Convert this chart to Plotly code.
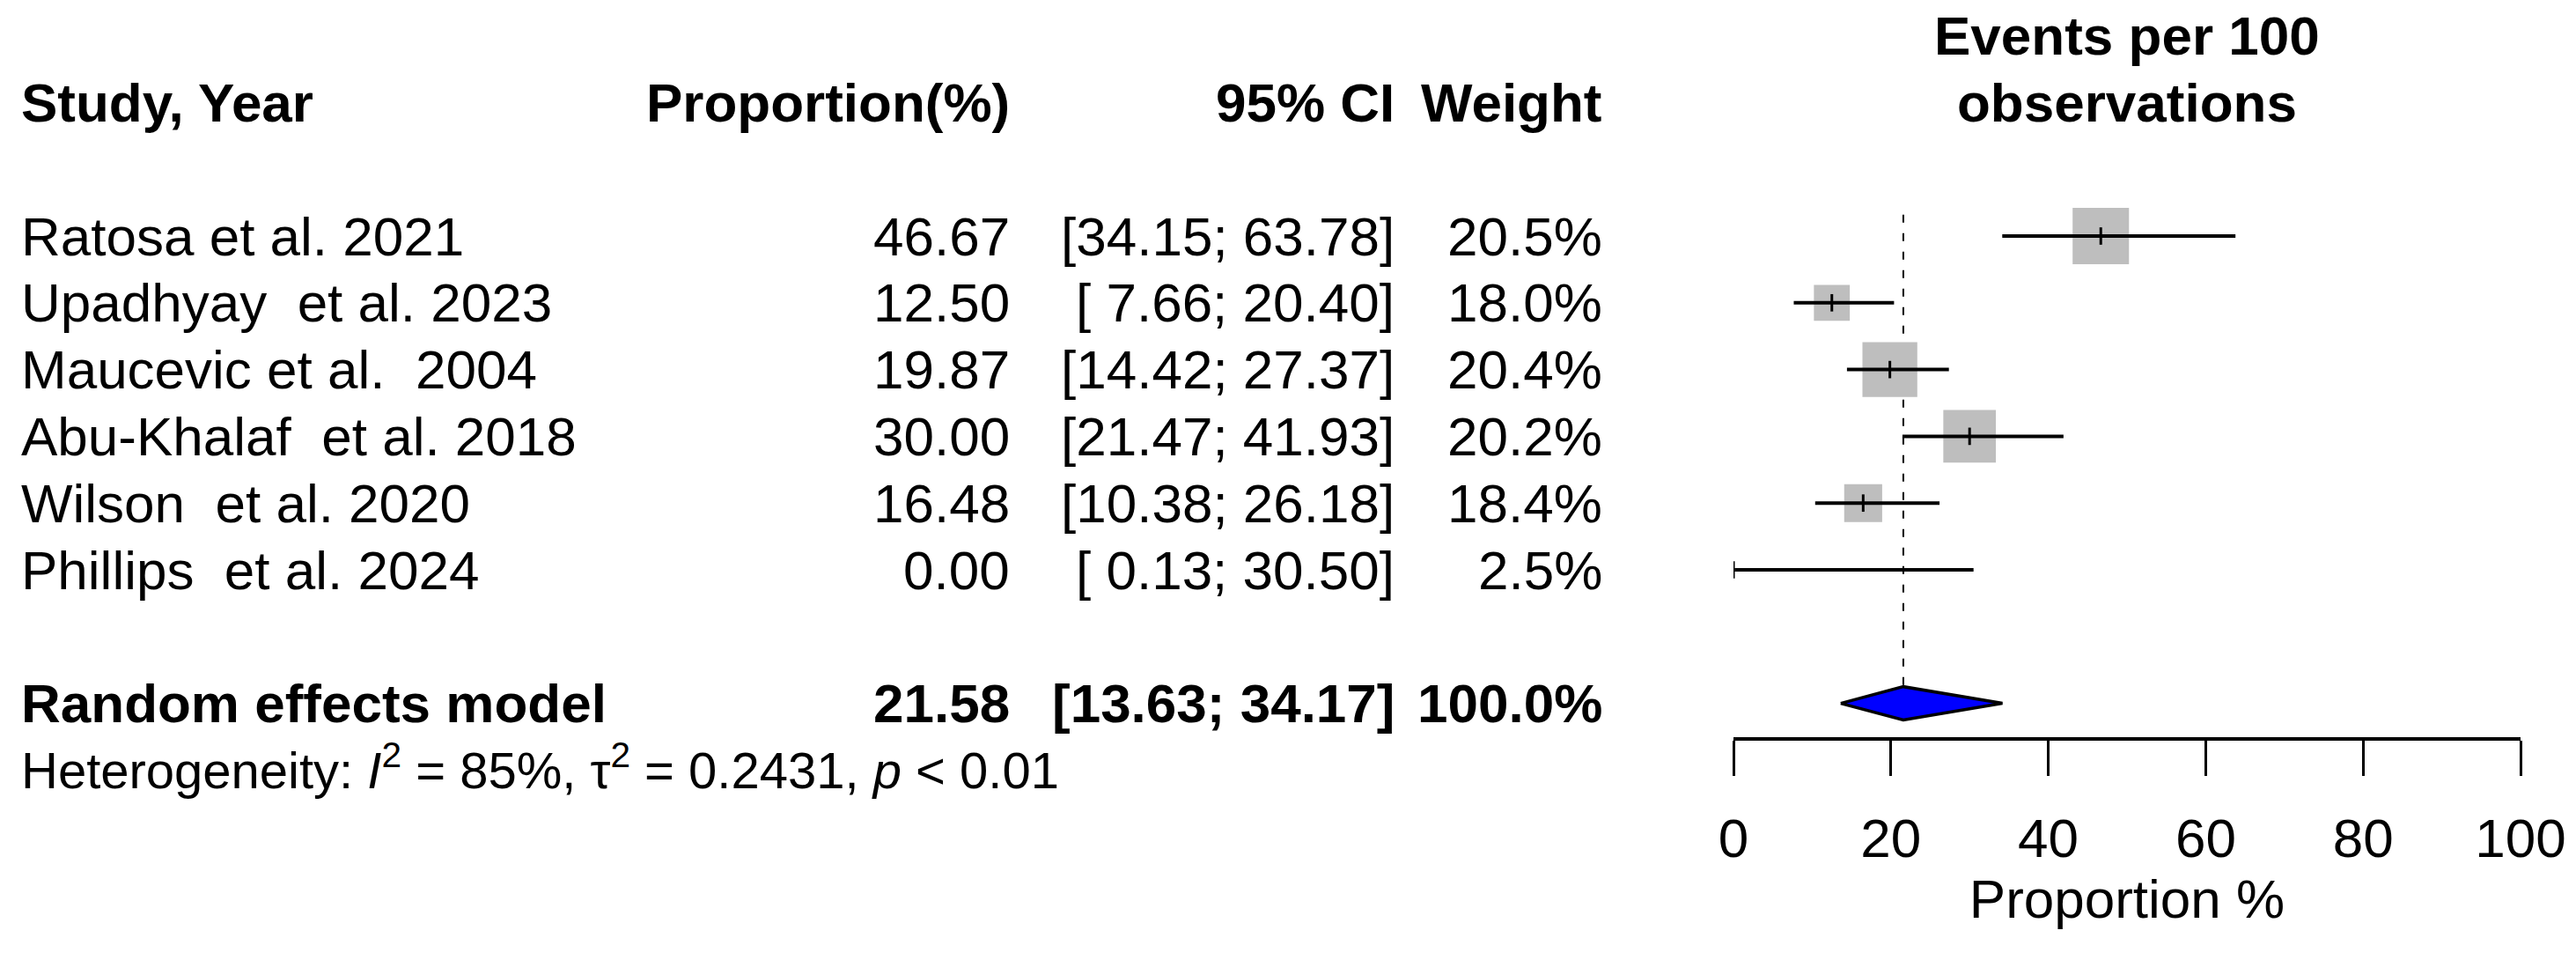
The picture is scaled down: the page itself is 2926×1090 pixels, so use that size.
import math
import plotly.graph_objects as go

# ---------------- data ----------------
studies = ["Ratosa et al. 2021", "Upadhyay  et al. 2023", "Maucevic et al.  2004",
           "Abu-Khalaf  et al. 2018", "Wilson  et al. 2020", "Phillips  et al. 2024"]
proportion = [46.67, 12.50, 19.87, 30.00, 16.48, 0.00]
ci_lower = [34.15, 7.66, 14.42, 21.47, 10.38, 0.13]
ci_upper = [63.78, 20.40, 27.37, 41.93, 26.18, 30.50]
weight_random = [20.5, 18.0, 20.4, 20.2, 18.4, 2.5]
# weights used for the box sizes (common-effect weights, %)
weight_box = [27.1, 11.0, 25.7, 23.6, 12.3, 0.0]

pooled_label = "Random effects model"
pooled_est = 21.58
pooled_lower = 13.63
pooled_upper = 34.17
pooled_weight = 100.0

het_text = "Heterogeneity: <i>I</i><sup>2</sup> = 85%, τ<sup>2</sup> = 0.2431, <i>p</i> &lt; 0.01"
axis_ticks = [0, 20, 40, 60, 80, 100]
axis_title = "Proportion %"
plot_title = ["Events per 100", "observations"]
headers = ["Study, Year", "Proportion(%)", "95% CI", "Weight"]

# ---------------- layout constants ----------------
W, H = 2926, 1090
FONT = "Liberation Sans, Arial, Helvetica, sans-serif"
FS = 62
X0_PX, X100_PX = 1969, 2863
ROW0_PX, ROW_STEP = 268, 75.8
AXIS_PX = 837
PX_PER_UNIT = (X100_PX - X0_PX) / 100.0
BOX_MAX_PX = 64

row_top = (0 - ROW0_PX) / ROW_STEP
row_bot = (AXIS_PX - ROW0_PX) / ROW_STEP
n = len(studies)
pooled_row = n + 1


def nb(s):
    # keep runs of spaces visible
    out = []
    prev_space = False
    for ch in s:
        if ch == " " and prev_space:
            out.append("\u00a0")
        else:
            out.append(ch)
        prev_space = ch in (" ", "\u00a0")
    return "".join(out)


fig = go.Figure()

# dashed line at pooled estimate
fig.add_shape(type="line", xref="x", yref="y", x0=pooled_est, x1=pooled_est,
              y0=-0.32, y1=pooled_row - 0.25,
              line=dict(color="black", width=2, dash="9px,12px"), layer="below")

# boxes
wmax = max(weight_box)
for i, (est, wb) in enumerate(zip(proportion, weight_box)):
    if wb <= 0:
        continue
    side = BOX_MAX_PX * math.sqrt(wb / wmax)
    hx = side / 2 / PX_PER_UNIT
    hy = side / 2 / ROW_STEP
    fig.add_shape(type="rect", xref="x", yref="y", x0=est - hx, x1=est + hx,
                  y0=i - hy, y1=i + hy, fillcolor="#bebebe",
                  line=dict(width=0), layer="below")

# CI lines
cx, cy = [], []
for i in range(n):
    cx += [ci_lower[i], ci_upper[i], None]
    cy += [i, i, None]
fig.add_trace(go.Scatter(x=cx, y=cy, mode="lines", line=dict(color="black", width=4),
                         hoverinfo="skip", showlegend=False))
# estimate ticks
tx, ty = [], []
for i in range(n):
    tx += [proportion[i], proportion[i], None]
    ty += [i - 0.13, i + 0.13, None]
fig.add_trace(go.Scatter(x=tx, y=ty, mode="lines", line=dict(color="black", width=3),
                         hoverinfo="skip", showlegend=False))
# diamond
fig.add_trace(go.Scatter(
    x=[pooled_lower, pooled_est, pooled_upper, pooled_est, pooled_lower],
    y=[pooled_row, pooled_row - 0.25, pooled_row, pooled_row + 0.25, pooled_row],
    mode="lines", fill="toself", fillcolor="#0000ff",
    line=dict(color="black", width=3.5), hoverinfo="skip", showlegend=False))


def ann(text, xpx, row, anchor, bold=False, size=FS):
    if bold:
        text = "<b>" + text + "</b>"
    fig.add_annotation(text=text, xref="paper", yref="y", x=xpx / W, y=row,
                       xanchor=anchor, yanchor="middle", showarrow=False,
                       font=dict(family=FONT, size=size, color="black"))


COL_NAME, COL_PROP, COL_CI, COL_W = 22, 1149, 1586, 1822

ann(headers[0], COL_NAME, -2, "left", True)
ann(headers[1], COL_PROP, -2, "right", True)
ann(headers[2], COL_CI, -2, "right", True)
ann(headers[3], COL_W, -2, "right", True)

for i in range(n):
    ann(nb(studies[i]), COL_NAME, i, "left")
    ann(f"{proportion[i]:.2f}", COL_PROP, i, "right")
    ann(f"[{ci_lower[i]:5.2f}; {ci_upper[i]:5.2f}]", COL_CI, i, "right")
    ann(f"{weight_random[i]:.1f}%", COL_W, i, "right")

ann(pooled_label, COL_NAME, pooled_row, "left", True)
ann(f"{pooled_est:.2f}", COL_PROP, pooled_row, "right", True)
ann(f"[{pooled_lower:.2f}; {pooled_upper:.2f}]", COL_CI, pooled_row, "right", True)
ann(f"{pooled_weight:.1f}%", COL_W, pooled_row, "right", True)

# heterogeneity line sits below the plotting rows -> paper coordinates
HET_PX = 870
fig.add_annotation(text=het_text, xref="paper", yref="paper", x=COL_NAME / W,
                   y=1 - HET_PX / H, xanchor="left", yanchor="middle", showarrow=False,
                   font=dict(family=FONT, size=58, color="black"))

for k, t in enumerate(plot_title):
    fig.add_annotation(text="<b>" + t + "</b>", xref="x", yref="y", x=50, y=-3 + k,
                       xanchor="center", yanchor="middle", showarrow=False,
                       font=dict(family=FONT, size=FS, color="black"))

fig.update_layout(
    width=W, height=H, margin=dict(l=0, r=0, t=0, b=0),
    paper_bgcolor="white", plot_bgcolor="white", showlegend=False,
    font=dict(family=FONT, color="black"),
    xaxis=dict(domain=[X0_PX / W, X100_PX / W], range=[0, 100], tickvals=axis_ticks,
               ticktext=[str(t) for t in axis_ticks], showline=True, linecolor="black",
               linewidth=3.5, ticks="outside", ticklen=40, tickwidth=2.5, tickcolor="black",
               showgrid=False, zeroline=False, ticklabelstandoff=18,
               tickfont=dict(family=FONT, size=FS, color="black"),
               title=dict(text=axis_title, standoff=12,
                          font=dict(family=FONT, size=FS, color="black")),
               automargin=False, fixedrange=True),
    yaxis=dict(domain=[1 - AXIS_PX / H, 1], range=[row_bot, row_top], visible=False,
               showgrid=False, zeroline=False, automargin=False, fixedrange=True),
)

fig.write_html("out.html", post_script="document.body.style.margin='0';",
               config={"displayModeBar": False})
